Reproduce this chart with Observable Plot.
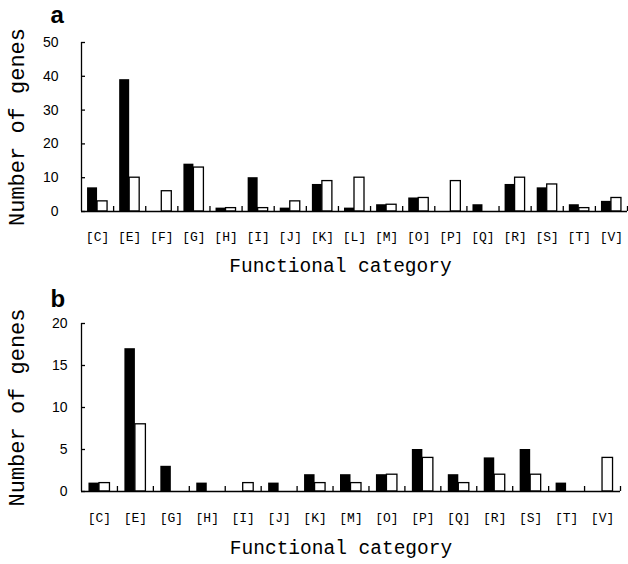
<!DOCTYPE html>
<html><head><meta charset="utf-8">
<script src="https://cdn.jsdelivr.net/npm/d3@7"></script>
<script src="https://cdn.jsdelivr.net/npm/@observablehq/plot@0.6"></script>
<style>body{margin:0;background:#fff} #chart svg{display:block}</style>
</head><body><div id="chart"></div>
<script>
// Panel a
const catsA  = ["C","E","F","G","H","I","J","K","L","M","O","P","Q","R","S","T","V"];
const blackA = [7, 39, 0, 14, 1, 10, 1, 8, 1, 2, 4, 0, 2, 8, 7, 2, 3];
const whiteA = [3, 10, 6, 13, 1, 1, 3, 9, 10, 2, 4, 9, 0, 10, 8, 1, 4];
const yTicksA = [0, 10, 20, 30, 40, 50];
// Panel b
const catsB  = ["C","E","G","H","I","J","K","M","O","P","Q","R","S","T","V"];
const blackB = [1, 17, 3, 1, 0, 1, 2, 2, 2, 5, 2, 4, 5, 1, 0];
const whiteB = [1, 8, 0, 0, 1, 0, 1, 1, 2, 4, 1, 2, 2, 0, 4];
const yTicksB = [0, 5, 10, 15, 20];
const xTitle = "Functional category";
const yTitle = "Number of genes";

function panel(o) {
  const width = 628, marginLeft = 81;
  const {cats, black, white, yMax, yTicks, letter, height, marginTop, marginBottom, marginRight, yTickPad, barW} = o;
  const pw = width - marginLeft - marginRight;
  const ph = height - marginTop - marginBottom;
  const bw = pw / cats.length;
  const lab = c => `[${c}]`;
  const rows = cats.map((c, i) => ({cat: lab(c), b: black[i], w: white[i]}));
  const mono = "'Liberation Mono', 'DejaVu Sans Mono', monospace";
  return Plot.plot({
    width, height, marginTop, marginBottom, marginLeft, marginRight,
    style: {background: "#fff", fontFamily: mono, color: "#000"},
    x: {type: "band", domain: cats.map(lab), padding: 0, round: false, axis: null},
    y: {domain: [0, yMax], axis: null},
    marks: [
      Plot.barY(rows.filter(d => d.b > 0), {x: "cat", y: "b", fill: "#000", insetLeft: bw/2 - barW, insetRight: bw/2}),
      Plot.barY(rows.filter(d => d.w > 0), {x: "cat", y: "w", fill: "#fff", stroke: "#000", strokeWidth: 1.3, insetLeft: bw/2, insetRight: bw/2 - barW}),
      Plot.ruleY([0], {stroke: "#000", strokeWidth: 1.3}),
      Plot.ruleX([lab(cats[0])], {x: d => d, dx: -bw/2, stroke: "#000", strokeWidth: 1.3}),
      Plot.ruleX(cats.map(lab), {x: d => d, dx: bw/2, insetTop: ph - 5, stroke: "#000", strokeWidth: 1.3}),
      Plot.ruleY(yTicks, {y: d => d, insetRight: pw - 4, stroke: "#000", strokeWidth: 1.3}),
      Plot.axisX({tickSize: 0, tickPadding: o.xTickPad, fontSize: 13, label: null, fontFamily: mono}),
      Plot.axisY({ticks: yTicks, tickSize: 0, tickPadding: yTickPad, fontSize: 14, label: null, fontFamily: "'Liberation Sans', sans-serif"}),
      Plot.text([xTitle], {frameAnchor: "bottom", dy: o.xTitleDy, dx: o.xTitleDx, fontSize: 19.5, fontFamily: mono}),
      Plot.text([yTitle], {frameAnchor: "left", textAnchor: "middle", rotate: -90, dx: -65, fontSize: 22, fontFamily: mono}),
      Plot.text([letter], {frameAnchor: "top-left", textAnchor: "start", lineAnchor: "middle", dx: -31, dy: o.letterDy, fontSize: 24, fontWeight: "bold", fontFamily: "'Liberation Sans', Arial, sans-serif"})
    ]
  });
}

const chart = document.getElementById("chart");
chart.append(panel({cats: catsA, black: blackA, white: whiteA, yMax: 50, yTicks: yTicksA, letter: "a",
  height: 282, marginTop: 42, marginBottom: 71, marginRight: 1, yTickPad: 23, barW: 10, xTickPad: 20, xTitleDy: 60, xTitleDx: -14, letterDy: -27}));
chart.append(panel({cats: catsB, black: blackB, white: whiteB, yMax: 20, yTicks: yTicksB, letter: "b",
  height: 282, marginTop: 41, marginBottom: 73, marginRight: 8, yTickPad: 14, barW: 10.5, xTickPad: 21, xTitleDy: 62, xTitleDx: -10, letterDy: -24}));
</script></body></html>
